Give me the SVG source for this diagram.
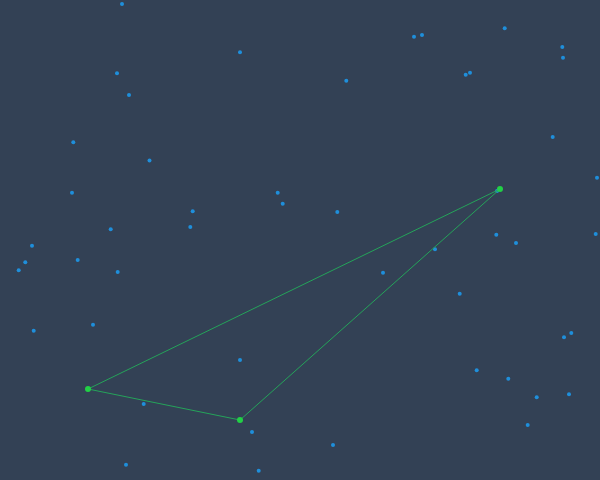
<svg xmlns="http://www.w3.org/2000/svg" width="600" height="480" viewBox="0 0 600 480">
<style>
.dot{fill:#1f8fdb}
.node{fill:#22d046}
.edge{stroke:#25a35a;stroke-width:1;fill:none}
</style>
<rect width="600" height="480" fill="#334155"/>
<g id="points">
<circle class="dot" cx="122" cy="4" r="2"/>
<circle class="dot" cx="117" cy="73.3" r="2"/>
<circle class="dot" cx="129" cy="95" r="2"/>
<circle class="dot" cx="73.3" cy="142.3" r="2"/>
<circle class="dot" cx="240" cy="52.3" r="2"/>
<circle class="dot" cx="414" cy="36.7" r="2"/>
<circle class="dot" cx="422" cy="35" r="2"/>
<circle class="dot" cx="346.3" cy="80.7" r="2"/>
<circle class="dot" cx="504.7" cy="28.3" r="2"/>
<circle class="dot" cx="562.3" cy="47" r="2"/>
<circle class="dot" cx="563" cy="57.7" r="2"/>
<circle class="dot" cx="465.7" cy="74.7" r="2"/>
<circle class="dot" cx="470" cy="72.7" r="2"/>
<circle class="dot" cx="552.7" cy="137" r="2"/>
<circle class="dot" cx="149.5" cy="160.5" r="2"/>
<circle class="dot" cx="72" cy="192.7" r="2"/>
<circle class="dot" cx="110.7" cy="229.3" r="2"/>
<circle class="dot" cx="32" cy="245.7" r="2"/>
<circle class="dot" cx="77.7" cy="260" r="2"/>
<circle class="dot" cx="25.3" cy="262.3" r="2"/>
<circle class="dot" cx="18.7" cy="270.3" r="2"/>
<circle class="dot" cx="117.7" cy="272" r="2"/>
<circle class="dot" cx="192.7" cy="211.3" r="2"/>
<circle class="dot" cx="190.3" cy="227" r="2"/>
<circle class="dot" cx="277.7" cy="192.7" r="2"/>
<circle class="dot" cx="282.7" cy="203.7" r="2"/>
<circle class="dot" cx="337.3" cy="212" r="2"/>
<circle class="dot" cx="383" cy="272.7" r="2"/>
<circle class="dot" cx="435" cy="249.3" r="2"/>
<circle class="dot" cx="497" cy="191" r="2"/>
<circle class="dot" cx="597" cy="177.7" r="2"/>
<circle class="dot" cx="496.3" cy="234.7" r="2"/>
<circle class="dot" cx="516" cy="243" r="2"/>
<circle class="dot" cx="595.7" cy="234" r="2"/>
<circle class="dot" cx="459.7" cy="293.7" r="2"/>
<circle class="dot" cx="33.7" cy="330.7" r="2"/>
<circle class="dot" cx="93" cy="324.7" r="2"/>
<circle class="dot" cx="143.7" cy="404" r="2"/>
<circle class="dot" cx="126" cy="464.7" r="2"/>
<circle class="dot" cx="240" cy="360" r="2"/>
<circle class="dot" cx="252" cy="432" r="2"/>
<circle class="dot" cx="258.7" cy="470.7" r="2"/>
<circle class="dot" cx="333" cy="445" r="2"/>
<circle class="dot" cx="571.3" cy="333" r="2"/>
<circle class="dot" cx="564" cy="337.3" r="2"/>
<circle class="dot" cx="476.7" cy="370.3" r="2"/>
<circle class="dot" cx="508.3" cy="378.7" r="2"/>
<circle class="dot" cx="536.7" cy="397.3" r="2"/>
<circle class="dot" cx="569" cy="394.3" r="2"/>
<circle class="dot" cx="527.7" cy="425" r="2"/>
</g>
<g id="connectors">
<line class="edge" x1="88" y1="389" x2="240" y2="420"/>
<line class="edge" x1="240" y1="420" x2="500" y2="189"/>
<line class="edge" x1="500" y1="189" x2="88" y2="389"/>
</g>
<g id="node-a"><circle class="node" cx="88" cy="389" r="3"/></g>
<g id="node-b"><circle class="node" cx="240" cy="420" r="3"/></g>
<g id="node-c"><circle class="node" cx="500" cy="189" r="3"/></g>
</svg>
